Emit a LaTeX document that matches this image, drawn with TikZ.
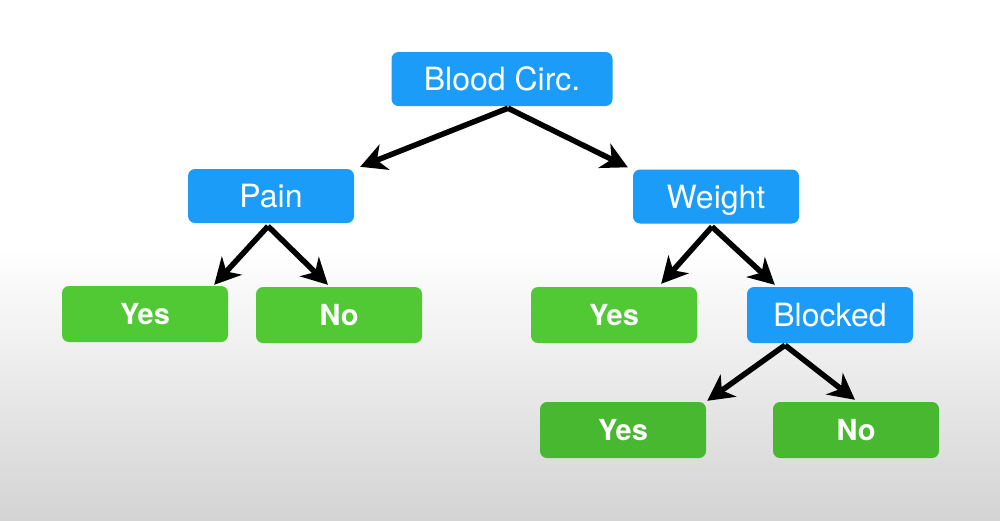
\documentclass[tikz,border=0pt]{standalone}
\usepackage{fontspec}
\setmainfont{TeX Gyre Heros}
\usetikzlibrary{arrows.meta,calc}
\definecolor{bblue}{HTML}{1A9CF8}
\definecolor{ggreen}{HTML}{50C935}
\definecolor{dgreen}{HTML}{49B831}
\tikzset{
  bluebox/.style={fill=bblue, rounded corners=7pt, minimum height=54pt, text=white, font=\fontsize{32}{36}\selectfont, inner sep=0pt, text height=23pt, text depth=0pt},
  greenbox/.style={fill=ggreen, rounded corners=7pt, minimum width=166pt, minimum height=56pt, text=white, font=\fontsize{29}{34}\selectfont\bfseries, inner sep=0pt, text height=21pt, text depth=0pt},
  conn/.style={line width=5.5pt, -{Stealth[length=26pt,width=27pt,inset=8pt]}}
}
\begin{document}
\begin{tikzpicture}[x=1pt,y=-1pt]
\useasboundingbox (0,0) rectangle (1000,520);
\fill[white] (0,0) rectangle (1000,250);
\shade[top color=white, bottom color=black!17] (0,249) rectangle (1000,520);
\node[bluebox, minimum width=221pt] (bc) at (502,79) {Blood Circ.};
\node[bluebox, minimum width=166pt] (pain) at (271,196) {Pain};
\node[bluebox, minimum width=166pt] (weight) at (716,196.5) {Weight};
\node[greenbox] (y1) at (145,314) {Yes};
\node[greenbox] (n1) at (339,315) {No};
\node[greenbox] (y2) at (614,315) {Yes};
\node[bluebox, minimum width=166pt, minimum height=56pt] (blocked) at (830,315) {Blocked};
\node[greenbox, fill=dgreen] (y3) at (623,430) {Yes};
\node[greenbox, fill=dgreen] (n3) at (856,430) {No};
\draw[conn] ($(bc.south)+(6,2)$) -- ($(pain.north east)+(6,-2)$);
\draw[conn] ($(bc.south)+(6,2)$) -- ($(weight.north west)+(-5,-2)$);
\draw[conn] ($(pain.south)+(-3,3)$) -- ($(y1.north east)+(-14,-1)$);
\draw[conn] ($(pain.south)+(-3,3)$) -- ($(n1.north)+(-11,-2)$);
\draw[conn] ($(weight.south)+(-4,3)$) -- ($(y2.north east)+(-36,-3)$);
\draw[conn] ($(weight.south)+(-4,3)$) -- ($(blocked.north west)+(28,-2)$);
\draw[conn] ($(blocked.south)+(-45,2)$) -- ($(y3.north east)+(1,-1)$);
\draw[conn] ($(blocked.south)+(-45,2)$) -- ($(n3.north)+(-1,-2)$);
\end{tikzpicture}
\end{document}
